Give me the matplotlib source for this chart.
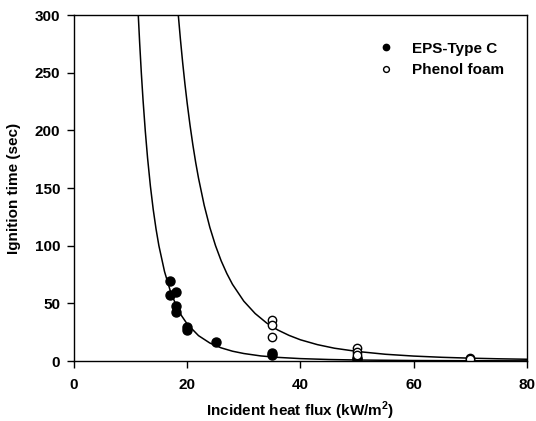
import numpy as np
import matplotlib
matplotlib.use('Agg')
from matplotlib import pyplot as plt

plt.rcParams['font.family'] = ['Liberation Sans', 'DejaVu Sans']
plt.rcParams['font.weight'] = 'bold'
plt.rcParams['mathtext.fontset'] = 'custom'
plt.rcParams['mathtext.bf'] = 'Liberation Sans:bold'
plt.rcParams['mathtext.rm'] = 'Liberation Sans:bold'

# measured points
eps_q = [17, 17, 18, 18, 18, 20, 20, 25, 35, 35, 50, 50]
eps_t = [69.6, 57, 59.5, 47.7, 42.2, 29.7, 27, 16.5, 7.2, 5.5, 2.3, 1.5]
phe_q = [35, 35, 35, 50, 50, 50, 70, 70]
phe_t = [35.5, 31, 21, 11, 8, 5.5, 2.3, 1.5]

# fitted curves
eps_fit_q = [11.36, 11.6, 11.9, 12.2, 12.6, 13.0, 13.5, 14, 14.5, 15, 16, 17, 18, 19, 20,
             22, 24, 26, 28, 30, 33, 36, 40, 45, 50, 60, 70, 80]
eps_fit_t = [300, 276.2, 249.7, 226.4, 199.3, 176.1, 151.7, 131.4, 114.4, 100.0, 77.5, 61.1, 48.7, 39.3, 32.1,
             22.0, 15.6, 11.4, 8.5, 6.5, 4.4, 3.15, 2.08, 1.30, 0.86, 0.42, 0.23, 0.13]
phe_fit_q = [18.43, 18.8, 19.2, 19.6, 20, 20.5, 21, 21.5, 22, 23, 24, 25, 26, 27, 28, 30,
             32, 34, 36, 38, 40, 43, 46, 50, 55, 60, 65, 70, 75, 80]
phe_fit_t = [300, 279.2, 258.8, 240.3, 223.5, 204.5, 187.5, 172.2, 158.6, 135.1, 115.9, 100.1, 86.9, 75.9, 66.5, 51.9,
             41.2, 33.1, 26.9, 22.2, 18.4, 14.2, 11.1, 8.3, 5.85, 4.28, 3.21, 2.46, 1.92, 1.52]

fig = plt.figure(figsize=(5.36, 4.21), dpi=100)
ax = fig.add_axes([0.138, 0.1425, 0.845, 0.8215])

ax.plot(eps_fit_q, eps_fit_t, color='black', lw=1.1)
ax.plot(phe_fit_q, phe_fit_t, color='black', lw=1.1)
ax.plot(eps_q, eps_t, 'o', color='black', ms=6.5, label='EPS-Type C')
ax.plot(phe_q, phe_t, 'o', mfc='white', mec='black', mew=1, ms=6, label='Phenol foam')

ax.set_xlim(0, 80)
ax.set_ylim(0, 300)
ax.set_xticks([0, 20, 40, 60, 80])
ax.set_yticks([0, 50, 100, 150, 200, 250, 300])
ax.tick_params(direction='out', length=5, width=1, labelsize=11)
ax.tick_params(axis='x', pad=7)
ax.tick_params(axis='y', pad=5)
for s in ax.spines.values():
    s.set_linewidth(1)
ax.set_xlabel(r'Incident heat flux (kW/m$^{\mathbf{2}}$)', fontsize=11, fontweight='bold', labelpad=6)
ax.set_ylabel('Ignition time (sec)', fontsize=11, fontweight='bold', labelpad=10)

leg = ax.legend(loc='upper left', bbox_to_anchor=(0.681, 0.934), bbox_transform=fig.transFigure,
                frameon=False, markerscale=0.7, handlelength=1, handletextpad=1.2,
                prop={'weight': 'bold', 'size': 11})

fig.savefig('out.png', dpi=100)
